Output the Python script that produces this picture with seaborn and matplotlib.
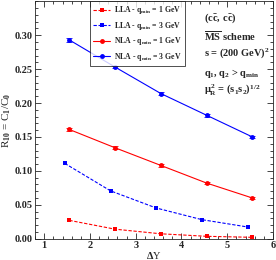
import numpy as np
import pandas as pd
import matplotlib
matplotlib.use("Agg")
import matplotlib.pyplot as plt
import seaborn as sns
from matplotlib.ticker import MultipleLocator

sns.set_theme(style="ticks")
plt.rcParams['font.family'] = ['Liberation Serif', 'DejaVu Serif']
plt.rcParams['font.weight'] = 'bold'
plt.rcParams['mathtext.fontset'] = 'custom'
plt.rcParams['mathtext.rm'] = 'Liberation Serif:bold'
plt.rcParams['mathtext.it'] = 'Liberation Serif:bold'
plt.rcParams['mathtext.bf'] = 'Liberation Serif:bold'

# data
x_lla1 = [1.55, 2.55, 3.55, 4.55, 5.55]
y_lla1 = [0.027, 0.014, 0.0072, 0.0035, 0.002]
x_lla3 = [1.45, 2.45, 3.45, 4.45, 5.45]
y_lla3 = [0.111, 0.0705, 0.0452, 0.028, 0.0172]
x_nla1 = [1.55, 2.55, 3.55, 4.55, 5.55]
y_nla1 = [0.161, 0.134, 0.108, 0.082, 0.060]
e_nla1 = [0.002, 0.002, 0.002, 0.002, 0.002]
x_nla3 = [1.55, 2.55, 3.55, 4.55, 5.55]
y_nla3 = [0.293, 0.253, 0.214, 0.182, 0.150]
e_nla3 = [0.003, 0.002, 0.002, 0.002, 0.002]

labels = [r"LLA - q$_{\rm min}$ = 1 GeV", r"LLA - q$_{\rm min}$ = 3 GeV",
          r"NLA - q$_{\rm min}$ = 1 GeV", r"NLA - q$_{\rm min}$ = 3 GeV"]

df = pd.concat([
    pd.DataFrame({"x": x_lla1, "y": y_lla1, "s": labels[0]}),
    pd.DataFrame({"x": x_lla3, "y": y_lla3, "s": labels[1]}),
    pd.DataFrame({"x": x_nla1, "y": y_nla1, "s": labels[2]}),
    pd.DataFrame({"x": x_nla3, "y": y_nla3, "s": labels[3]}),
])

fig = plt.figure(figsize=(2.76, 2.60), dpi=100)
ax = fig.add_axes([0.127, 0.082, 0.862, 0.913])

palette = {labels[0]: "#ff0000", labels[1]: "#0000ff", labels[2]: "#ff0000", labels[3]: "#0000ff"}
sns.lineplot(data=df, x="x", y="y", hue="s", style="s", palette=palette,
             dashes={labels[0]: (3, 1.5), labels[1]: (3, 1.5), labels[2]: "", labels[3]: ""},
             markers={labels[0]: "s", labels[1]: "s", labels[2]: "o", labels[3]: "o"},
             markersize=3.5, markeredgewidth=0, linewidth=0.8, ax=ax, sort=False)

ax.errorbar(x_nla1, y_nla1, yerr=e_nla1, fmt="none", ecolor="#ff0000", elinewidth=0.6, capsize=2, capthick=0.6)
ax.errorbar(x_nla3, y_nla3, yerr=e_nla3, fmt="none", ecolor="#0000ff", elinewidth=0.6, capsize=2, capthick=0.6)

ax.set_xlim(0.8, 6)
ax.set_ylim(0, 0.35)
ax.xaxis.set_major_locator(MultipleLocator(1))
ax.xaxis.set_minor_locator(MultipleLocator(0.2))
ax.yaxis.set_major_locator(MultipleLocator(0.05))
ax.yaxis.set_minor_locator(MultipleLocator(0.01))
ax.set_yticks([0, 0.05, 0.10, 0.15, 0.20, 0.25, 0.30])
ax.set_yticklabels(["0.00", "0.05", "0.10", "0.15", "0.20", "0.25", "0.30"])
ax.tick_params(which="both", direction="in", top=True, right=True, labelsize=7.5, width=0.6, pad=2)
ax.tick_params(which="major", length=4)
ax.tick_params(which="minor", length=2)
for sp in ax.spines.values():
    sp.set_linewidth(0.6)
for lab in ax.get_xticklabels() + ax.get_yticklabels():
    lab.set_fontweight("bold")

ax.set_xlabel(r"$\Delta$Y", fontsize=7.5, labelpad=0)
ax.set_ylabel(r"R$_{10}$ = C$_1$/C$_0$", fontsize=8, labelpad=1)

leg = ax.legend(loc="upper left", bbox_to_anchor=(0.232, 1.0), fontsize=5.6, frameon=True,
                fancybox=False, edgecolor="black", handlelength=2.2, borderpad=0.4,
                labelspacing=0.45, handletextpad=0.5, borderaxespad=0)
leg.get_frame().set_linewidth(0.6)
for t in leg.get_texts():
    t.set_fontweight("bold")

tk = dict(fontsize=7.5, fontweight="bold", transform=ax.transAxes, ha="left", va="center")
ax.text(0.712, 0.93, r"$(c\bar{c},\, c\bar{c})$", **tk)
ax.text(0.712, 0.855, r"$\overline{\rm MS}$ scheme", **tk)
ax.text(0.712, 0.78, r"s = (200 GeV)$^2$", **tk)
ax.text(0.712, 0.695, r"q$_1$, q$_2$ > q$_{\rm min}$", **tk)
ax.text(0.712, 0.628, r"$\mu_R^2$ = (s$_1$s$_2$)$^{1/2}$", **tk)

fig.savefig("out.png", dpi=100)
